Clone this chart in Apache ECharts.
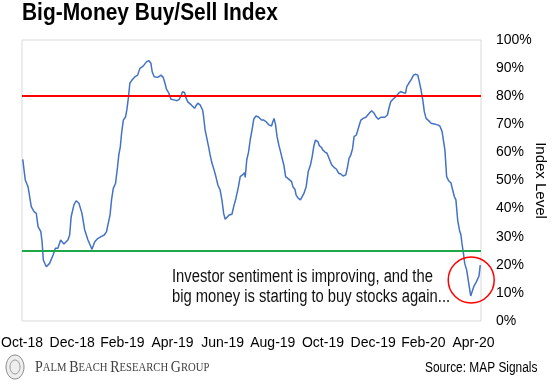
<!DOCTYPE html>
<html><head><meta charset="utf-8">
<script src="https://cdn.jsdelivr.net/npm/echarts@6/dist/echarts.min.js"></script>
<style>html,body{margin:0;padding:0;background:#fff}#c{width:560px;height:388px}</style>
</head><body><div id="c"></div>
<script>
// x = months since 1 Oct 2018
const months = [0.03,0.13,0.24,0.37,0.48,0.57,0.64,0.75,0.80,0.85,0.97,1.10,1.24,1.33,1.43,1.54,1.61,1.67,1.83,1.90,1.96,2.07,2.16,2.27,2.39,2.50,2.63,2.79,2.90,3.00,3.04,3.15,3.28,3.37,3.44,3.51,3.57,3.64,3.73,3.81,3.86,3.92,3.97,4.04,4.13,4.18,4.24,4.30,4.39,4.50,4.61,4.70,4.83,4.97,5.06,5.14,5.19,5.27,5.41,5.54,5.63,5.70,5.76,5.86,5.94,6.10,6.18,6.27,6.35,6.40,6.48,6.53,6.61,6.75,6.88,6.93,7.01,7.10,7.20,7.24,7.30,7.37,7.44,7.50,7.57,7.64,7.73,7.81,7.90,7.97,8.04,8.10,8.17,8.26,8.37,8.44,8.53,8.63,8.70,8.79,8.87,8.90,8.96,9.03,9.10,9.18,9.24,9.33,9.44,9.55,9.64,9.73,9.84,9.95,10.00,10.05,10.11,10.17,10.24,10.31,10.37,10.44,10.51,10.57,10.67,10.75,10.80,10.88,10.93,11.01,11.10,11.17,11.24,11.33,11.41,11.50,11.57,11.63,11.70,11.80,11.86,11.94,11.99,12.07,12.16,12.22,12.35,12.44,12.54,12.62,12.71,12.80,12.91,12.98,13.04,13.11,13.18,13.24,13.33,13.41,13.51,13.60,13.71,13.78,13.86,13.94,14.04,14.13,14.21,14.30,14.37,14.47,14.57,14.63,14.70,14.79,14.90,15.01,15.10,15.19,15.29,15.34,15.42,15.51,15.61,15.69,15.78,15.84,15.91,15.98,16.04,16.11,16.21,16.31,16.44,16.57,16.66,16.75,16.80,16.86,16.93,17.01,17.10,17.17,17.24,17.30,17.37,17.44,17.50,17.54,17.60,17.65,17.73,17.81,17.89,18.01,18.12,18.22,18.27];
const indexLevel = [57.5,50.2,47.8,40.7,38.9,38.3,33.6,31.8,28.2,21.7,19.3,20.5,23.5,25.9,25.9,28.8,29.1,27.4,28.8,30.6,37.1,41.3,42.8,41.9,38.3,32.4,28.8,25.5,28.2,29.2,28.8,30.0,30.6,31.8,34.8,37.7,43.1,47.2,49.0,54.9,59.1,62.0,66.8,71.5,72.7,75.1,79.3,84.6,85.8,86.9,87.5,89.9,90.7,92.3,92.6,91.7,88.7,86.9,86.7,87.5,86.7,84.6,82.5,81.0,78.9,78.6,78.4,78.9,80.4,81.6,81.3,79.6,78.0,76.9,75.7,76.5,77.5,76.9,75.1,72.7,68.0,65.0,62.0,59.1,56.3,54.3,51.4,48.4,46.6,43.1,38.3,36.2,35.9,37.7,38.0,40.7,43.7,47.8,51.4,52.0,52.8,51.1,57.3,60.0,64.5,68.5,71.8,73.0,72.5,71.5,71.5,70.9,69.8,69.4,70.9,72.1,69.8,65.6,62.6,60.2,57.9,55.5,51.4,50.8,50.2,49.6,47.8,46.9,44.8,43.7,43.1,42.8,45.4,47.8,53.1,55.5,58.5,62.0,64.4,63.8,62.3,61.8,60.9,60.2,59.7,59.1,55.5,54.7,54.0,52.6,52.3,51.6,52.0,54.9,57.9,59.1,61.4,65.6,66.2,68.6,71.5,72.1,72.5,72.1,74.1,74.8,73.9,72.5,71.8,72.5,71.8,72.5,73.3,75.7,78.0,78.9,79.8,81.0,81.6,81.3,81.0,83.4,84.6,85.8,87.5,87.8,87.5,85.2,82.2,78.6,74.5,72.1,71.3,70.4,70.1,69.8,69.4,67.4,64.4,60.9,51.4,49.9,49.2,46.6,44.2,43.1,35.9,32.4,30.6,27.6,24.1,20.5,18.1,13.5,8.9,12.2,14.0,16.0,19.9];
const tickLabels = ['Oct-18','Dec-18','Feb-19','Apr-19','Jun-19','Aug-19','Oct-19','Dec-19','Feb-20','Apr-20'];
const sellLevel = 80, buyLevel = 25;
const circleAt = [17.91, 14.6];
const noteLines = ['Investor sentiment is improving, and the','big money is starting to buy stocks again...'];

const FONT = "'Liberation Sans',Arial,sans-serif";
const SERIF = "'Liberation Serif','Times New Roman',serif";
const chart = echarts.init(document.getElementById('c'), null, {renderer:'canvas'});
const data = months.map((m,i)=>[m, indexLevel[i]]);
chart.setOption({
  animation:false,
  backgroundColor:'#fff',
  grid:{left:22,right:79,top:40,bottom:67,show:true,borderColor:'#d9d9d9',borderWidth:1,outerBoundsMode:'none',containLabel:false},
  xAxis:{type:'value',min:0,max:18.3,interval:2,
    axisLine:{show:false},axisTick:{show:false},splitLine:{show:false},
    axisLabel:{showMaxLabel:false,showMinLabel:true,hideOverlap:false,margin:15,fontFamily:FONT,fontSize:14,color:'#000',
      formatter:v=>{const k=Math.round(v/2);return Math.abs(v-2*k)<1e-6&&tickLabels[k]?tickLabels[k]:'';}}},
  yAxis:{type:'value',position:'right',min:0,max:100,interval:10,
    axisLine:{show:false},axisTick:{show:false},splitLine:{show:false},
    axisLabel:{margin:15,fontFamily:FONT,fontSize:14,color:'#000',formatter:'{value}%'},
    name:'Index Level',nameLocation:'middle',nameRotate:-90,nameGap:52,nameMoveOverlap:false,
    nameTextStyle:{fontFamily:FONT,fontSize:15,color:'#000'}},
  series:[{type:'line',data:data,showSymbol:false,symbol:'none',
    lineStyle:{color:'#4472c4',width:1.5},
    markLine:{silent:true,symbol:'none',label:{show:false},
      data:[{yAxis:sellLevel,lineStyle:{color:'#ff0000',width:2,type:'solid'}},
            {yAxis:buyLevel,lineStyle:{color:'#1fa84a',width:2,type:'solid'}}]},
    markPoint:{silent:true,symbol:'circle',symbolSize:46,label:{show:false},
      itemStyle:{color:'rgba(0,0,0,0)',borderColor:'#ff0000',borderWidth:1.5},
      data:[{coord:circleAt}]}
  }],
  graphic:[
    {type:'text',x:22,y:2,scaleX:0.91,style:{text:'Big-Money Buy/Sell Index',fontFamily:FONT,fontSize:23,fontWeight:'bold',fill:'#000'}},
    {type:'text',x:172,y:267,scaleX:0.82,style:{text:noteLines.join('\n'),fontFamily:FONT,fontSize:18,lineHeight:20,fill:'#111'}},
    {type:'group',x:5,y:354,children:[
      {type:'ellipse',shape:{cx:10,cy:13,rx:9,ry:12},style:{fill:'#eee',stroke:'#888',lineWidth:1}},
      {type:'ellipse',shape:{cx:10,cy:13,rx:5,ry:7},style:{fill:'none',stroke:'#999',lineWidth:1}}
    ]},
    {type:'text',x:35,y:359,scaleX:0.82,style:{text:'{b|P}{s|ALM} {b|B}{s|EACH} {b|R}{s|ESEARCH} {b|G}{s|ROUP}',
      rich:{b:{fontFamily:SERIF,fontSize:17,fill:'#404040'},s:{fontFamily:SERIF,fontSize:13,fill:'#404040'}}}},
    {type:'text',x:425,y:361,scaleX:0.85,style:{text:'Source: MAP Signals',fontFamily:FONT,fontSize:14,fill:'#000'}}
  ]
});
</script></body></html>
